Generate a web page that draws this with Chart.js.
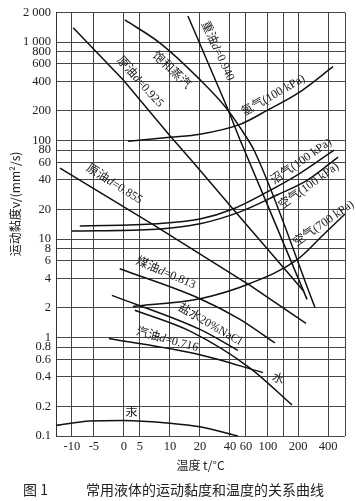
<!DOCTYPE html>
<html><head><meta charset="utf-8">
<script src="https://cdn.jsdelivr.net/npm/chart.js@4/dist/chart.umd.min.js"></script>
<style>html,body{margin:0;padding:0;background:#fff;}canvas{display:block;}</style>
</head><body>
<canvas id="c" width="356" height="501"></canvas>
<script>
// ---- axis definitions ----
const xTickTemps  = [-10, -5, 0, 5, 10, 20, 40, 60, 100, 150, 200, 400];
const xTickLabels = ['-10', '-5', '0', '5', '10', '20', '40', '60', '100', '', '200', '400'];
// relative spacing of the temperature rules on the graph paper (non-uniform chart scale)
const xAxisStretch = [0, 22, 52, 68, 98, 128, 158, 174, 196, 211, 226, 256];
const xRange = [-13.6, 513];

const yTicks      = [0.1, 0.2, 0.4, 0.6, 0.8, 1, 2, 4, 6, 8, 10, 20, 40, 60, 80, 100, 200, 400, 600, 800, 1000, 2000];
const yTickLabels = ['0.1','0.2','0.4','0.6','0.8','1','2','4','6','8','10','20','40','60','80','100','200','400','600','800','1 000','2 000'];

// ---- series: [temperature °C, kinematic viscosity mm²/s] ----
const crudeOil0925 = [[-9.7, 1400], [-0.1, 413], [10, 112], [17.8, 60], [43.8, 20.2], [240, 2.94]];
const heavyOil0940 = [[16, 1840], [38.7, 207], [52.5, 102], [100, 21.6], [260, 2.44]];
const satSteam     = [[0.3, 1680], [8.3, 984], [20, 416], [36.7, 222], [52.5, 136], [76.4, 76.2], [313, 2.02]];
const hydrogen100  = [[1.3, 98.4], [10, 108], [20, 116], [52.5, 146], [100, 205], [200, 303], [433, 563]];
const biogas100    = [[-8.2, 13.6], [7.8, 14.3], [20, 16], [43.8, 20.2], [98, 30], [197, 44.6], [440, 80]];
const air100       = [[-10, 12.1], [7.8, 12.6], [20, 14.3], [52.5, 18.9], [130, 28], [260, 39.4], [467, 68]];
const crudeOil0855 = [[-12.7, 52.5], [7.2, 14], [67.3, 3.38], [253, 1.39]];
const air700       = [[2.8, 2.07], [20, 2.48], [67.3, 3.54], [197, 6.18], [367, 11], [513, 18]];
const kerosene0813 = [[-0.7, 5.0], [20, 2.48], [52.5, 1.53], [123, 0.88]];
const brine20      = [[-2, 2.68], [20, 1.21], [50, 0.74]];
const water        = [[3.4, 1.89], [16.7, 1.16], [67.3, 0.49], [180, 0.207]];
const gasoline0716 = [[-2.5, 0.98], [20, 0.67], [91, 0.44]];
const mercury      = [[-13.6, 0.128], [-5.9, 0.142], [-0.2, 0.144], [10, 0.135], [20, 0.124], [50, 0.1]];

const seriesList = [
  {name: '原油d=0.925', data: crudeOil0925, smooth: false},
  {name: '重油d=0.940', data: heavyOil0940, smooth: false},
  {name: '饱和蒸汽', data: satSteam, smooth: true},
  {name: '氢气(100 kPa)', data: hydrogen100, smooth: true},
  {name: '沼气(100 kPa)', data: biogas100, smooth: true},
  {name: '空气(100 kPa)', data: air100, smooth: true},
  {name: '原油d=0.855', data: crudeOil0855, smooth: false},
  {name: '空气(700 kPa)', data: air700, smooth: true},
  {name: '煤油d=0.813', data: kerosene0813, smooth: true},
  {name: '盐水20%NaCl', data: brine20, smooth: true},
  {name: '水', data: water, smooth: true},
  {name: '汽油d=0.716', data: gasoline0716, smooth: true},
  {name: '汞', data: mercury, smooth: true}
];

// curve annotations anchored in data units
const curveLabels = [
  {text: '原油d=0.925', t: 5.0, v: 394, angle: 48},
  {text: '饱和蒸汽', t: 10.5, v: 517, angle: 43},
  {text: '重油d=0.940', t: 31.7, v: 811, angle: 65},
  {text: '氢气(100 kPa)', t: 118, v: 287, angle: -30},
  {text: '原油d=0.855', t: -1.6, v: 36.1, angle: 32},
  {text: '沼气(100 kPa)', t: 222, v: 61.4, angle: -35},
  {text: '空气(100 kPa)', t: 273, v: 34.5, angle: -36},
  {text: '空气(700 kPa)', t: 371, v: 14.4, angle: -35},
  {text: '煤油d=0.813', t: 9.3, v: 4.51, angle: 23},
  {text: '盐水20%NaCl', t: 26.7, v: 1.35, angle: 30},
  {text: '汽油d=0.716', t: 9.55, v: 0.948, angle: 15},
  {text: '水', t: 133, v: 0.379, angle: 20},
  {text: '汞', t: 2.4, v: 0.173, angle: 0}
];

const SERIF = "'Liberation Serif', 'Noto Sans CJK SC', serif";
const CJK = "'Noto Sans CJK SC', 'Liberation Serif', sans-serif";

// ---- custom non-uniform temperature scale ----
function toUnit(t) {
  const T = xTickTemps, U = xAxisStretch, n = T.length;
  let i = 0;
  if (t <= T[0]) i = 0;
  else if (t >= T[n - 1]) i = n - 2;
  else { while (t > T[i + 1]) i++; }
  return U[i] + (t - T[i]) * (U[i + 1] - U[i]) / (T[i + 1] - T[i]);
}
function fromUnit(u) {
  const T = xTickTemps, U = xAxisStretch, n = U.length;
  let i = 0;
  if (u <= U[0]) i = 0;
  else if (u >= U[n - 1]) i = n - 2;
  else { while (u > U[i + 1]) i++; }
  return T[i] + (u - U[i]) * (T[i + 1] - T[i]) / (U[i + 1] - U[i]);
}
class StretchScale extends Chart.LinearScale {
  buildTicks() {
    return [this.min, ...xTickTemps, this.max].map(v => ({value: v}));
  }
  getPixelForValue(value) {
    const a = toUnit(this.min), b = toUnit(this.max);
    return this.getPixelForDecimal((toUnit(value) - a) / (b - a));
  }
  getValueForPixel(pixel) {
    const a = toUnit(this.min), b = toUnit(this.max);
    return fromUnit(a + this.getDecimalForPixel(pixel) * (b - a));
  }
}
StretchScale.id = 'stretch';
StretchScale.defaults = Chart.LinearScale.defaults;
Chart.register(StretchScale);

function drawMixed(ctx, text, size) {
  // 'd' drawn in italic, rest upright, centred at origin
  const runs = [];
  for (const ch of text) {
    const it = ch === 'd';
    if (runs.length && runs[runs.length - 1].it === it) runs[runs.length - 1].s += ch;
    else runs.push({it, s: ch});
  }
  const fontOf = r => (r.it ? 'italic ' : '') + size + 'px ' + SERIF;
  let total = 0;
  runs.forEach(r => { ctx.font = fontOf(r); r.w = ctx.measureText(r.s).width; total += r.w; });
  let x = -total / 2;
  ctx.textAlign = 'left';
  ctx.textBaseline = 'middle';
  runs.forEach(r => { ctx.font = fontOf(r); ctx.fillText(r.s, x, 0); x += r.w; });
}

const annotate = {
  id: 'annotate',
  beforeDraw(chart) {
    const c = chart.ctx;
    c.save(); c.fillStyle = '#fff'; c.fillRect(0, 0, chart.width, chart.height); c.restore();
  },
  afterDatasetsDraw(chart) {
    const {ctx, scales: {x, y}} = chart;
    ctx.save();
    ctx.fillStyle = '#1a1a1a';
    curveLabels.forEach(l => {
      ctx.save();
      ctx.translate(x.getPixelForValue(l.t), y.getPixelForValue(l.v));
      ctx.rotate(l.angle * Math.PI / 180);
      drawMixed(ctx, l.text, 12);
      ctx.restore();
    });
    ctx.restore();
  },
  afterDraw(chart) {
    const ctx = chart.ctx;
    ctx.save();
    ctx.fillStyle = '#222';
    // y-axis title
    ctx.save();
    ctx.translate(15, 204);
    ctx.rotate(-Math.PI / 2);
    ctx.font = '12px ' + CJK;
    ctx.textAlign = 'center';
    ctx.textBaseline = 'middle';
    ctx.fillText('运动黏度ν/(mm²/s)', 0, 0);
    ctx.restore();
    // caption
    ctx.font = '14px ' + CJK;
    ctx.textBaseline = 'middle';
    ctx.textAlign = 'left';
    ctx.fillText('图 1', 23, 490);
    ctx.fillText('常用液体的运动黏度和温度的关系曲线', 86, 490);
    ctx.restore();
  }
};

new Chart(document.getElementById('c'), {
  type: 'line',
  data: {
    datasets: seriesList.map(s => ({
      label: s.name,
      data: s.data.map(p => ({x: p[0], y: p[1]})),
      borderColor: '#111',
      borderWidth: 1.5,
      pointRadius: 0,
      fill: false,
      tension: s.smooth ? 0.4 : 0,
      cubicInterpolationMode: s.smooth ? 'monotone' : 'default'
    }))
  },
  options: {
    responsive: false,
    animation: false,
    devicePixelRatio: 1,
    layout: {padding: {left: 0, right: 11, top: 10, bottom: 25}},
    plugins: {legend: {display: false}, tooltip: {enabled: false}},
    scales: {
      x: {
        type: 'stretch',
        min: xRange[0], max: xRange[1],
        afterFit: s => { s.height = 40; },
        grid: {color: '#444', lineWidth: 1, drawTicks: false},
        border: {display: false},
        ticks: {
          autoSkip: false, maxRotation: 0, padding: 3, color: '#222',
          font: {family: SERIF, size: 12.5},
          callback: (v, i) => (i === 0 || i > xTickLabels.length) ? '' : xTickLabels[i - 1]
        },
        title: {display: true, text: '温度 t/°C', color: '#222', font: {family: CJK, size: 12}, padding: {top: 0, bottom: 3}}
      },
      y: {
        type: 'logarithmic',
        min: 0.1, max: 2000,
        afterFit: s => { s.width = 56; },
        afterBuildTicks: s => { s.ticks = yTicks.map(v => ({value: v})); },
        grid: {color: '#444', lineWidth: 1, drawTicks: false},
        border: {display: true, color: '#333', width: 1},
        ticks: {
          autoSkip: false, padding: 5, color: '#222',
          font: {family: SERIF, size: 12.5},
          callback: (v, i) => yTickLabels[i]
        },
        title: {display: false}
      }
    }
  },
  plugins: [annotate]
});
</script>
</body></html>
